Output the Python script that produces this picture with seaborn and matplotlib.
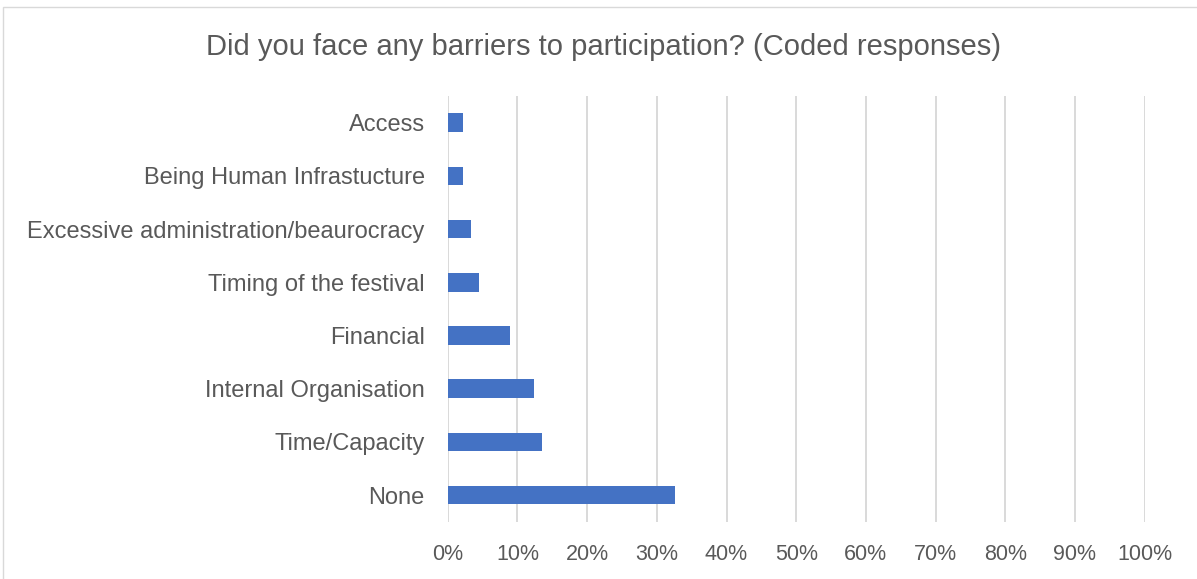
import matplotlib
matplotlib.use("Agg")
import matplotlib.pyplot as plt
import seaborn as sns
import pandas as pd
from matplotlib.ticker import FuncFormatter
from matplotlib.patches import Rectangle

# Coded responses (share of respondents, %)
categories = [
    "Access",
    "Being Human Infrastucture",
    "Excessive administration/beaurocracy",
    "Timing of the festival",
    "Financial",
    "Internal Organisation",
    "Time/Capacity",
    "None",
]
shares = [2.2, 2.2, 3.4, 4.5, 9.0, 12.4, 13.5, 32.6]
tick_values = list(range(0, 101, 10))

df = pd.DataFrame({"category": categories, "share": shares})

sns.set_theme(style="white")
plt.rcParams["font.family"] = ["Liberation Sans", "DejaVu Sans"]

text_color = "#595959"
grid_color = "#D9D9D9"
bar_color = "#4472C4"

fig = plt.figure(figsize=(11.97, 5.79), dpi=100)
W, H = 1197, 579
ax = fig.add_axes([447.7 / W, 1 - 521.7 / H, (1144.7 - 447.7) / W, (521.7 - 96) / H])

sns.barplot(data=df, x="share", y="category", orient="h", color=bar_color,
            width=0.35, saturation=1, linewidth=0, ax=ax)

ax.set_xlim(0, 100)
ax.set_ylim(len(categories) - 0.5, -0.5)
ax.set_xticks(tick_values)
ax.xaxis.set_major_formatter(FuncFormatter(lambda v, _: f"{v:.0f}%"))
ax.grid(axis="x", color=grid_color, linewidth=1.4)
ax.set_axisbelow(True)
for s in ax.spines.values():
    s.set_visible(False)
ax.set_xlabel("")
ax.set_ylabel("")
ax.tick_params(axis="x", colors=text_color, labelsize=15.5, length=0, pad=16)
ax.tick_params(axis="y", colors=text_color, labelsize=17, length=0, pad=16.5)
for lbl in ax.get_xticklabels() + ax.get_yticklabels():
    lbl.set_color(text_color)

fig.text(603 / W, 1 - 47 / H, "Did you face any barriers to participation? (Coded responses)",
         ha="center", va="center", fontsize=21, color=text_color)

# chart frame
fig.patches.append(Rectangle((3 / W, -0.01), 1.05, 1 - 7 / H + 0.01, transform=fig.transFigure,
                             fill=False, edgecolor="#D9D9D9", linewidth=1))

fig.savefig("out.png", dpi=100, facecolor="white")
